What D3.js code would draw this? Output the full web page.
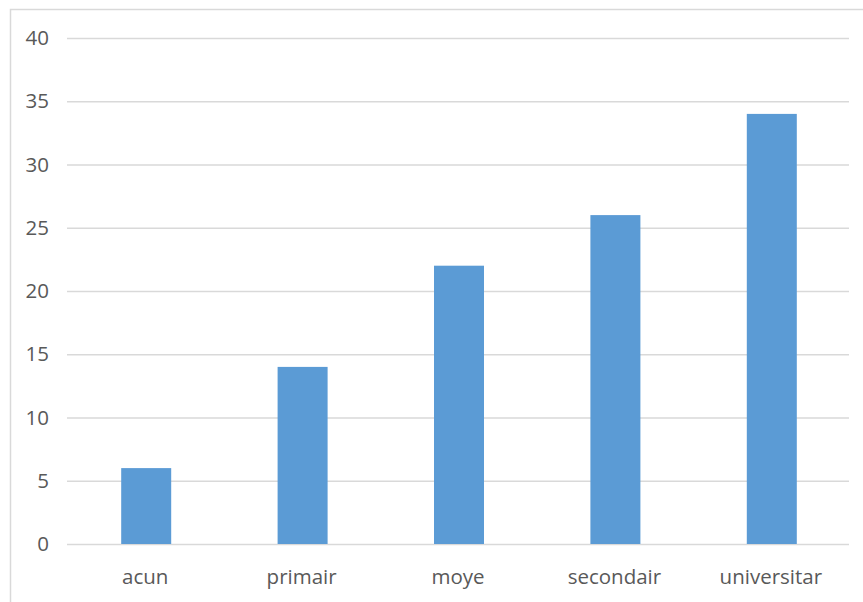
<!DOCTYPE html>
<html><head><meta charset="utf-8">
<script src="https://cdn.jsdelivr.net/npm/d3@7"></script>
<style>html,body{margin:0;padding:0;background:#fff;}svg{display:block;}</style>
</head><body>
<script>
const categories = ["acun","primair","moye","secondair","universitar"];
const values = [6,14,22,26,34];
const yTicks = [0,5,10,15,20,25,30,35,40];

(function(){
const W = 863, H = 602;
const svg = d3.select("body").append("svg").attr("width",W).attr("height",H);
svg.append("rect").attr("x",10.5).attr("y",9.5).attr("width",W+10).attr("height",H+10)
  .attr("fill","#fff").attr("stroke","#d9d9d9").attr("stroke-width",1.5);

const mL = 67, mR = 849, mT = 38, mB = 544;
const x = d3.scaleBand().domain(categories).range([mL,mR]).paddingInner(0).paddingOuter(0);
const y = d3.scaleLinear().domain([0,40]).range([mB,mT]);
const font = "'Open Sans', sans-serif";

const yAxis = d3.axisLeft(y).tickValues(yTicks).tickSize(-(mR-mL)).tickPadding(18);
const gy = svg.append("g").attr("transform",`translate(${mL},0)`).call(yAxis);
gy.select(".domain").remove();
gy.selectAll(".tick line").attr("stroke","#d9d9d9").attr("stroke-width",1.5);
gy.selectAll(".tick text").attr("fill","#595959").style("font-family",font).style("font-size","20.5px");

const barW = 50;
svg.append("g").selectAll("rect").data(values).join("rect")
  .attr("x",(d,i)=>x(categories[i])+x.bandwidth()/2-barW/2+1)
  .attr("width",barW)
  .attr("y",d=>y(d))
  .attr("height",d=>y(0)-y(d))
  .attr("fill","#5b9bd5");

const xAxis = d3.axisBottom(x).tickSize(0).tickPadding(25);
const gx = svg.append("g").attr("transform",`translate(0,${mB})`).call(xAxis);
gx.select(".domain").remove();
gx.selectAll(".tick text").attr("fill","#595959").style("font-family",font).style("font-size","20.5px");
})();
</script>
</body></html>
